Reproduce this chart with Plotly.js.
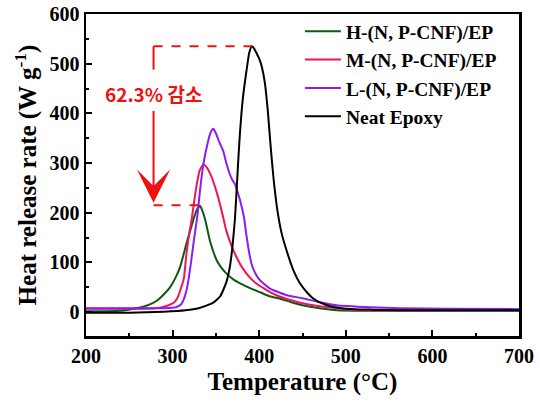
<!DOCTYPE html>
<html>
<head>
<meta charset="utf-8">
<script src="https://cdn.plot.ly/plotly-3.0.1.min.js"></script>
<style>html,body{margin:0;padding:0;background:#fff}#chart{width:540px;height:403px}</style>
</head>
<body>
<div id="chart"></div>
<script>
// ---- data ----
const seriesNames = ["H-(N, P-CNF)/EP", "M-(N, P-CNF)/EP", "L-(N, P-CNF)/EP", "Neat Epoxy"];

const hTemp = [200,240,258,268,277,284,290,297,303,308.5,316,320,324,328,331.6,334,337,340,343,347,351,356,362,370,378,390,401,412,424,437,450,470,490,520,600,700];
const hHRR  = [2,3,8,12,18,26,36,50,68,90,138,162,186,206,214,206,190,168,144,122,104,90,78,66,58,48,40,32,27,20,14,8,4,3,3,3];

const mTemp = [200,250,280,292,302,306,310,313,316,319,322,325,328,331,335.5,340,345,349,352.8,358.5,362,368,374,381,389,398,409,420,435,450,470,490,505,540,600,700];
const mHRR  = [7,7,8,12,20,30,50,68,118,156,186,224,258,284,297,290,272,252,230,190,164,134,110,88,70,56,44,34,25,18,12,8,5,4,4,5];

const lTemp = [200,250,290,304,310,313,316,319,322,325,328.5,331.6,335.5,341,344,347,350,354,358.5,362,366,369,372,375,378,382.5,385,388,391,395,400,406,412,418,424,432,450,470,489,528,562,620,700];
const lHRR  = [8,8,8,10,16,26,44,72,110,150,192,244,298,344,362,369,360,342,324,300,278,266,258,242,224,190,158,124,98,80,66,56,48,43,39,34,28,20,14,10,8,7,6];

const nTemp = [200,250,290,315,330,346,355,362,366,369,372,374.5,377,381,385.5,388.5,391.5,394,397,400,403,406.5,410,413,416.5,421,426,432,440,447,455,462,472,482,495,510,530,560,620,700];
const nHRR  = [-1,-1,1,4,8,18,32,60,90,130,188,264,340,428,488,522,535,531,521,510,494,462,404,338,270,205,158,122,82,58,40,28,18,12,8,6,5,4,4,4];

const xTicks = [200,300,400,500,600,700];
const yTicks = [0,100,200,300,400,500,600];

// annotation values (peak reduction)
const peakNeat = 535, peakH = 215, reductionLabel = "62.3% 감소";

// ---- styles ----
const colors = ["#0b5a14", "#f0145a", "#8a1cf5", "#000000"];
const serif = "Liberation Serif, Times New Roman, serif";

const temps = [hTemp, mTemp, lTemp, nTemp];
const vals = [hHRR, mHRR, lHRR, nHRR];
const traces = seriesNames.map((n, i) => ({
  x: temps[i], y: vals[i], name: n, type: "scatter", mode: "lines",
  line: {color: colors[i], width: 2, shape: "spline", smoothing: 0.5}
}));

const annX = 278;
const red = "#f01010";
const layout = {
  width: 540, height: 403,
  margin: {l: 86, r: 21, t: 12, b: 67},
  paper_bgcolor: "#fff", plot_bgcolor: "#fff",
  showlegend: true,
  legend: {
    x: 0.494, y: 1.006, xanchor: "left", yanchor: "top",
    bgcolor: "rgba(0,0,0,0)", itemwidth: 36,
    font: {family: serif, size: 19.5, color: "#000", weight: "bold"}
  },
  xaxis: {
    range: [200, 700], tickvals: xTicks, ticktext: xTicks.map(String),
    ticks: "inside", ticklen: 6, tickwidth: 2, tickcolor: "#000",
    minor: {dtick: 50, tick0: 0, ticks: "inside", ticklen: 3, tickwidth: 2, tickcolor: "#000"},
    showline: true, linewidth: 2.5, linecolor: "#000", mirror: true,
    showgrid: false, zeroline: false,
    tickfont: {family: serif, size: 20, color: "#000", weight: "bold"},
    title: {text: "Temperature (°C)", font: {family: serif, size: 25, color: "#000", weight: "bold"}, standoff: 7}
  },
  yaxis: {
    range: [-48, 600], tickvals: yTicks, ticktext: yTicks.map(String),
    ticks: "inside", ticklen: 6, tickwidth: 2, tickcolor: "#000",
    minor: {dtick: 50, tick0: 0, ticks: "inside", ticklen: 3, tickwidth: 2, tickcolor: "#000"},
    showline: true, linewidth: 2.5, linecolor: "#000", mirror: true,
    showgrid: false, zeroline: false,
    tickfont: {family: serif, size: 20, color: "#000", weight: "bold"},
    title: {text: "Heat release rate (W g<sup>-1</sup>)", font: {family: serif, size: 25, color: "#000", weight: "bold"}, standoff: 6}
  },
  shapes: [
    {type: "line", xref: "x", yref: "y", x0: annX, x1: 392, y0: peakNeat, y1: peakNeat, line: {color: red, width: 2, dash: "dash"}},
    {type: "line", xref: "x", yref: "y", x0: annX, x1: 340, y0: peakH, y1: peakH, line: {color: red, width: 2, dash: "dash"}},
    {type: "line", xref: "x", yref: "y", x0: annX, x1: annX, y0: peakNeat, y1: 488, line: {color: red, width: 2}}
  ],
  annotations: [
    {xref: "x", yref: "y", x: annX, y: 440, text: reductionLabel, showarrow: false,
     font: {family: "Noto Sans CJK KR, sans-serif", size: 19, color: red, weight: "bold"}},
    {xref: "x", yref: "y", axref: "x", ayref: "y", x: annX, y: 220, ax: annX, ay: 408, text: "",
     showarrow: true, arrowhead: 3, arrowsize: 2.8, arrowwidth: 2, arrowcolor: red}
  ]
};

Plotly.newPlot("chart", traces, layout, {displayModeBar: false, staticPlot: true});
</script>
</body>
</html>
